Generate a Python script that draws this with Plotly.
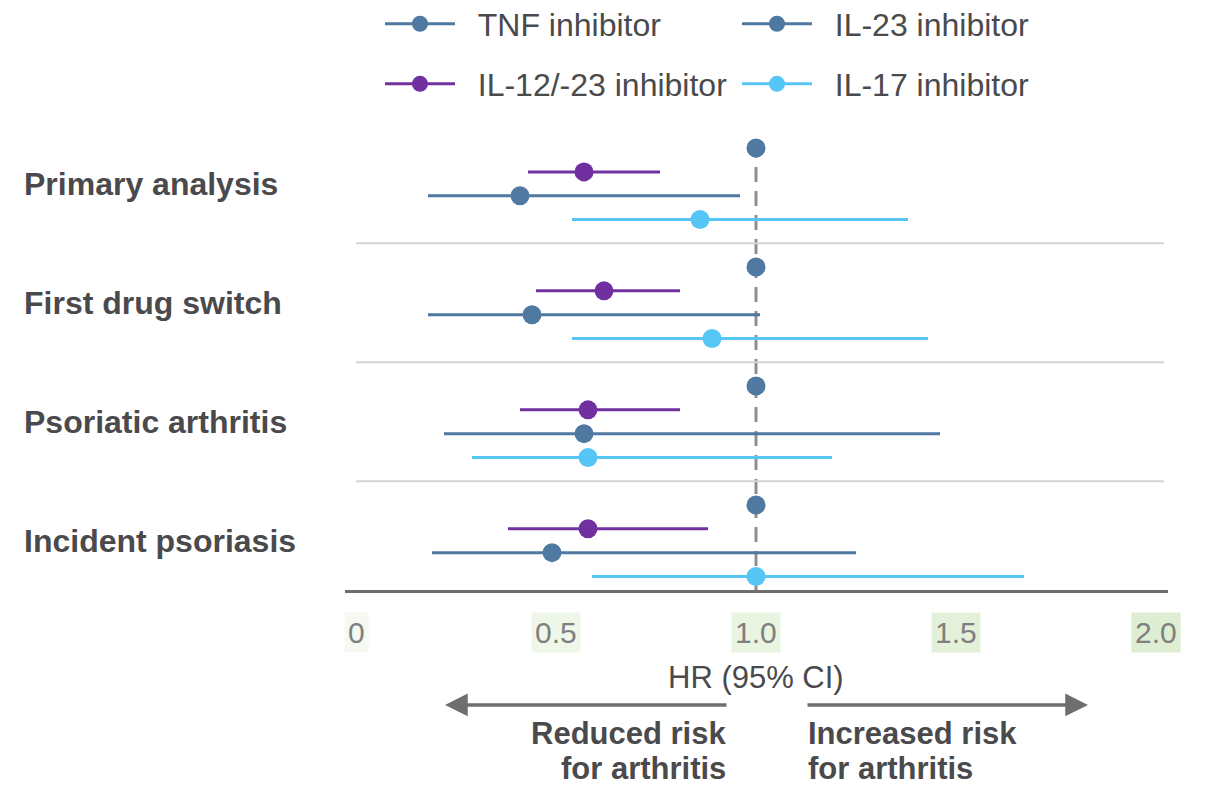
import plotly.graph_objects as go

# ---------------- data ----------------
CATEGORIES = ["Primary analysis", "First drug switch", "Psoriatic arthritis", "Incident psoriasis"]
SERIES = ["TNF inhibitor", "IL-12/-23 inhibitor", "IL-23 inhibitor", "IL-17 inhibitor"]

TNF_HR = [1.0, 1.0, 1.0, 1.0]

IL1223_HR = [0.57, 0.62, 0.58, 0.58]
IL1223_LO = [0.43, 0.45, 0.41, 0.38]
IL1223_HI = [0.76, 0.81, 0.81, 0.88]

IL23_HR = [0.41, 0.44, 0.57, 0.49]
IL23_LO = [0.18, 0.18, 0.22, 0.19]
IL23_HI = [0.96, 1.01, 1.46, 1.25]

IL17_HR = [0.86, 0.89, 0.58, 1.00]
IL17_LO = [0.54, 0.54, 0.29, 0.59]
IL17_HI = [1.38, 1.43, 1.19, 1.67]

TICK_VALS = [0, 0.5, 1.0, 1.5, 2.0]
TICK_TEXT = ["0", "0.5", "1.0", "1.5", "2.0"]
TICK_BG = ["#f5f9f1", "#eff7e9", "#e9f4e1", "#e4f1da", "#deeed2"]

# ---------------- style ----------------
FONT = "Liberation Sans, Arial, sans-serif"
BLUE = "#4f79a0"
PURPLE = "#7030a0"
LIGHT = "#56c6f6"
TEXT = "#4a4a4d"
GROUP_STEP = 5
PAD = "\u00a0\u00a0"

series_defs = [
    (SERIES[0], TNF_HR, None, None, BLUE, "legend", 0),
    (SERIES[1], IL1223_HR, IL1223_LO, IL1223_HI, PURPLE, "legend2", 1),
    (SERIES[2], IL23_HR, IL23_LO, IL23_HI, BLUE, "legend", 2),
    (SERIES[3], IL17_HR, IL17_LO, IL17_HI, LIGHT, "legend2", 3),
]

fig = go.Figure()

for name, hr, lo, hi, color, leg, k in series_defs:
    xs, ys, ep, em = [], [], [], []
    for g, v in enumerate(hr):
        xs += [v, None]
        ys += [g * GROUP_STEP + k, None]
        if lo is not None:
            ep += [hi[g] - v, 0]
            em += [v - lo[g], 0]
    tr = dict(
        x=xs, y=ys, name=PAD + name, mode="lines+markers",
        line=dict(color=color, width=3),
        marker=dict(color=color, size=19),
        legend=leg, hoverinfo="skip",
    )
    if lo is not None:
        tr["error_x"] = dict(type="data", array=ep, arrayminus=em, symmetric=False,
                             color=color, thickness=3, width=0)
    fig.add_trace(go.Scatter(**tr))

shapes = []
# reference line at HR = 1
shapes.append(dict(type="line", xref="x", yref="paper", x0=1, x1=1, y0=0, y1=1,
                   line=dict(color="#8f8f8f", width=3, dash="15px,9px"), layer="below"))
# group separators
for g in range(len(CATEGORIES) - 1):
    yy = g * GROUP_STEP + 4
    shapes.append(dict(type="line", xref="x", yref="y", x0=0, x1=2.02, y0=yy, y1=yy,
                       line=dict(color="#d3d3d3", width=2), layer="below"))

annotations = []
for g, cat in enumerate(CATEGORIES):
    annotations.append(dict(text=f"<b>{cat}</b>", xref="paper", yref="y",
                            x=-0.3925, y=g * GROUP_STEP + 1.5, xanchor="left", yanchor="middle",
                            showarrow=False, font=dict(family=FONT, size=32, color=TEXT)))
for v, t, bg in zip(TICK_VALS, TICK_TEXT, TICK_BG):
    annotations.append(dict(text=t, xref="x", yref="paper", x=v, y=-0.0945,
                            xanchor="center", yanchor="middle", showarrow=False,
                            bgcolor=bg, borderpad=3,
                            font=dict(family=FONT, size=30, color="#7f7f7f")))
annotations.append(dict(text="HR (95% CI)", xref="x", yref="paper", x=1.0, y=-0.193,
                        xanchor="center", yanchor="middle", showarrow=False,
                        font=dict(family=FONT, size=31, color=TEXT)))
# arrows
annotations.append(dict(text="", xref="x", yref="paper", x=0.2225, y=-0.2527,
                        axref="x", ax=0.93, ayref="pixel", ay=0, showarrow=True,
                        arrowhead=2, arrowsize=1.3, arrowwidth=3.5, arrowcolor="#6e6e6e",
                        standoff=0, startstandoff=0))
annotations.append(dict(text="", xref="x", yref="paper", x=1.83, y=-0.2527,
                        axref="x", ax=1.125, ayref="pixel", ay=0, showarrow=True,
                        arrowhead=2, arrowsize=1.3, arrowwidth=3.5, arrowcolor="#6e6e6e",
                        standoff=0, startstandoff=0))
for txt, xv, anchor in [(("Reduced risk", "for arthritis"), 0.93, "right"),
                        (("Increased risk", "for arthritis"), 1.125, "left")]:
    for line, yp in zip(txt, [-0.3143, -0.393]):
        annotations.append(dict(text=f"<b>{line}</b>", xref="x", yref="paper",
                                x=xv, y=yp, xanchor=anchor, yanchor="middle", align=anchor,
                                showarrow=False, font=dict(family=FONT, size=31, color=TEXT)))

legend_common = dict(orientation="h", xanchor="left", yanchor="middle",
                     font=dict(family=FONT, size=32, color=TEXT), itemwidth=70,
                     entrywidth=272, entrywidthmode="pixels", bgcolor="rgba(0,0,0,0)",
                     traceorder="normal", itemclick=False, itemdoubleclick=False)

fig.update_layout(
    width=1220, height=786,
    margin=dict(l=345, r=52, t=135, b=196, autoexpand=False),
    paper_bgcolor="white", plot_bgcolor="white",
    showlegend=True,
    legend=dict(x=0.0425, y=1.244, **legend_common),
    legend2=dict(x=0.0425, y=1.112, **legend_common),
    xaxis=dict(range=[-0.0275, 2.03], showgrid=False, zeroline=False,
               showline=True, linecolor="#6e6e6e", linewidth=3,
               showticklabels=False, ticks="", fixedrange=True),
    yaxis=dict(range=[18.57, -0.55], showgrid=False, zeroline=False,
               showline=False, showticklabels=False, ticks="", fixedrange=True),
    shapes=shapes, annotations=annotations,
    font=dict(family=FONT),
)

fig.write_html("out.html")
